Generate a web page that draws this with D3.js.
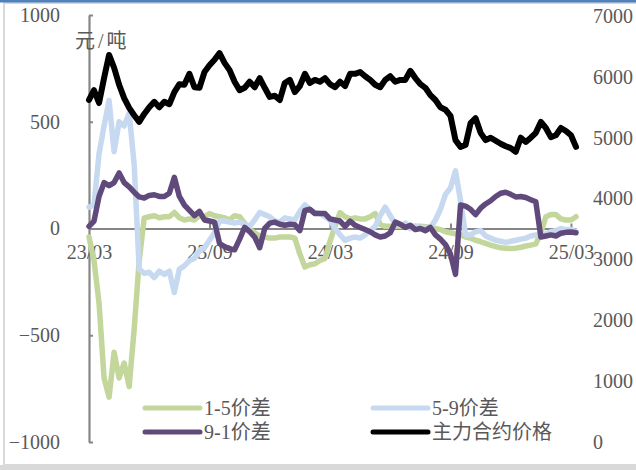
<!DOCTYPE html>
<html>
<head>
<meta charset="utf-8">
<script src="https://cdn.jsdelivr.net/npm/d3@7"></script>
<style>
  html, body { margin: 0; padding: 0; background: #fff; }
  svg { display: block; }
  text { font-family: "Liberation Serif", "DejaVu Serif", "Noto Sans CJK SC", serif; fill: #595959; }
</style>
</head>
<body>
<svg id="chart" width="636" height="470"></svg>
<script>
const xTickLabels = ["23/03", "23/09", "24/03", "24/09", "25/03"];
const xTickIndex = [0, 24, 48, 72, 96];
const leftTicks = [-1000, -500, 0, 500, 1000];
const rightTicks = [0, 1000, 2000, 3000, 4000, 5000, 6000, 7000];

const spread15 = [-40,-150,-350,-700,-790,-580,-700,-630,-740,-470,
  -150,50,55,60,50,55,55,75,50,40,
  45,40,60,55,70,60,55,50,40,60,
  55,25,-5,-20,-35,-40,-45,-45,-40,-40,
  -40,-45,-120,-180,-170,-165,-150,-140,-60,10,
  75,55,45,50,45,45,55,70,20,10,
  10,10,10,8,10,10,10,8,5,0,
  -5,-15,-20,-25,-30,-40,-45,-55,-62,-70,
  -78,-85,-90,-92,-94,-92,-88,-82,-78,-72,
  -20,55,65,65,45,40,40,55];

const spread59 = [100,110,350,480,600,360,500,480,540,300,
  -190,-210,-205,-230,-200,-215,-200,-300,-190,-175,
  -150,-140,-105,-90,-55,-20,35,35,30,25,
  30,20,10,40,75,65,55,35,30,50,
  45,40,80,110,90,75,70,55,40,0,
  -30,-55,-45,-40,-45,-30,-10,10,60,100,
  60,20,15,25,0,10,5,5,5,40,
  90,160,190,270,130,-30,-30,-15,-10,-35,
  -45,-55,-60,-65,-60,-55,-50,-45,-35,-30,
  -30,-25,-15,-10,0,-5,-5,-15];

const spread91 = [10,35,150,215,200,215,260,215,195,170,
  148,143,155,158,150,150,165,240,150,110,
  85,60,80,40,35,30,-70,-85,-95,-100,
  -50,5,-15,-40,-90,0,25,30,20,15,
  20,18,-10,85,90,70,70,70,45,40,
  35,10,35,15,5,-5,-15,-30,-40,-35,
  -20,30,20,5,15,-5,0,-10,5,-30,
  -50,-75,-120,-215,110,105,90,65,95,115,
  130,150,165,170,160,148,150,145,135,125,
  -40,-35,-30,-35,-22,-18,-16,-20];

const mainPrice = [5620,5780,5570,5980,6360,6150,5870,5650,5490,5370,
  5260,5390,5500,5590,5500,5590,5550,5750,5880,5870,
  6050,5830,5820,6080,6190,6280,6390,6230,6110,5920,
  5780,5820,5920,5830,5980,5820,5670,5690,5620,5900,
  5950,5750,5850,6050,5900,5950,5920,5980,5880,5830,
  5920,5850,6050,6050,6080,6010,5950,5870,5830,5950,
  6010,5920,5950,5950,6100,5980,5880,5820,5700,5620,
  5500,5460,5360,4960,4850,4880,5240,5320,5080,4960,
  5000,4950,4900,4860,4830,4770,5000,4930,5000,5080,
  5260,5160,5010,5040,5160,5110,5040,4850];

const seriesNames = ["1-5价差", "5-9价差", "9-1价差", "主力合约价格"];
const seriesColors = ["#C3D69B", "#C6D9F1", "#604A7B", "#000000"];

// ---- drawing ----
const svg = d3.select("#chart");

// frame
svg.append("rect").attr("x", 4).attr("y", 3).attr("width", 640).attr("height", 462)
  .attr("fill", "none").attr("stroke", "#d9d9d9").attr("stroke-width", 2);
svg.append("rect").attr("x", 0).attr("y", 465).attr("width", 636).attr("height", 5).attr("fill", "#d9d9d9");
svg.append("rect").attr("x", 0).attr("y", 0).attr("width", 636).attr("height", 2.5).attr("fill", "#4F81BD");

const n = mainPrice.length;
const x = d3.scaleLinear().domain([0, n - 1]).range([89, 576]);
const yL = d3.scaleLinear().domain([-1000, 1000]).range([442, 15]);
const yR = d3.scaleLinear().domain([0, 7000]).range([442, 16]);

const axisColor = "#868686";

// left axis
const gL = svg.append("g").attr("transform", "translate(89,0)")
  .call(d3.axisLeft(yL).tickValues(leftTicks).tickSizeInner(-4).tickSizeOuter(0).tickPadding(29)
    .tickFormat(d => d < 0 ? "\u2212" + Math.abs(d) : String(d)));
gL.select(".domain").attr("stroke", axisColor).attr("stroke-width", 2.2);
gL.selectAll(".tick line").attr("stroke", axisColor).attr("stroke-width", 2);
gL.selectAll("text").style("font-size", "20px").attr("fill", "#595959");

// right axis
const gR = svg.append("g").attr("transform", "translate(593,0)")
  .call(d3.axisRight(yR).tickValues(rightTicks).tickSize(0).tickPadding(0).tickFormat(d3.format("d")));
gR.select(".domain").remove();
gR.selectAll("text").style("font-size", "20px").attr("fill", "#595959");

// x axis on zero line
const gX = svg.append("g").attr("transform", `translate(0,${yL(0)})`)
  .call(d3.axisBottom(x).tickValues(xTickIndex).tickSizeInner(-5).tickSizeOuter(0).tickPadding(16)
    .tickFormat((d, i) => xTickLabels[i]));
gX.select(".domain").attr("stroke", axisColor).attr("stroke-width", 2.2);
gX.selectAll(".tick line").attr("stroke", axisColor).attr("stroke-width", 2);
gX.selectAll("text").style("font-size", "20px").attr("fill", "#595959");

// unit label
svg.append("text").attr("x", 75).attr("y", 48).style("font-size", "20px")
  .style("letter-spacing", "3px").text("元/吨");

// lines
const lineL = d3.line().x((d, i) => x(i)).y(d => yL(d)).curve(d3.curveLinear);
const lineR = d3.line().x((d, i) => x(i)).y(d => yR(d)).curve(d3.curveLinear);

const spreadData = [spread15, spread59, spread91];
spreadData.forEach((s, k) => {
  svg.append("path").datum(s).attr("d", lineL)
    .attr("fill", "none").attr("stroke", seriesColors[k]).attr("stroke-width", 5.5)
    .attr("stroke-linejoin", "round").attr("stroke-linecap", "round");
});
svg.append("path").datum(mainPrice).attr("d", lineR)
  .attr("fill", "none").attr("stroke", seriesColors[3]).attr("stroke-width", 6)
  .attr("stroke-linejoin", "round").attr("stroke-linecap", "round");

// legend
const legendPos = [[145, 408], [373, 408], [145, 432], [373, 432]];
legendPos.forEach(([lx, ly], k) => {
  svg.append("line").attr("x1", lx).attr("x2", lx + 55).attr("y1", ly).attr("y2", ly)
    .attr("stroke", seriesColors[k]).attr("stroke-width", 5).attr("stroke-linecap", "round");
  svg.append("text").attr("x", lx + 59).attr("y", ly).attr("dy", "0.35em")
    .style("font-size", "20px").text(seriesNames[k]);
});
</script>
</body>
</html>
